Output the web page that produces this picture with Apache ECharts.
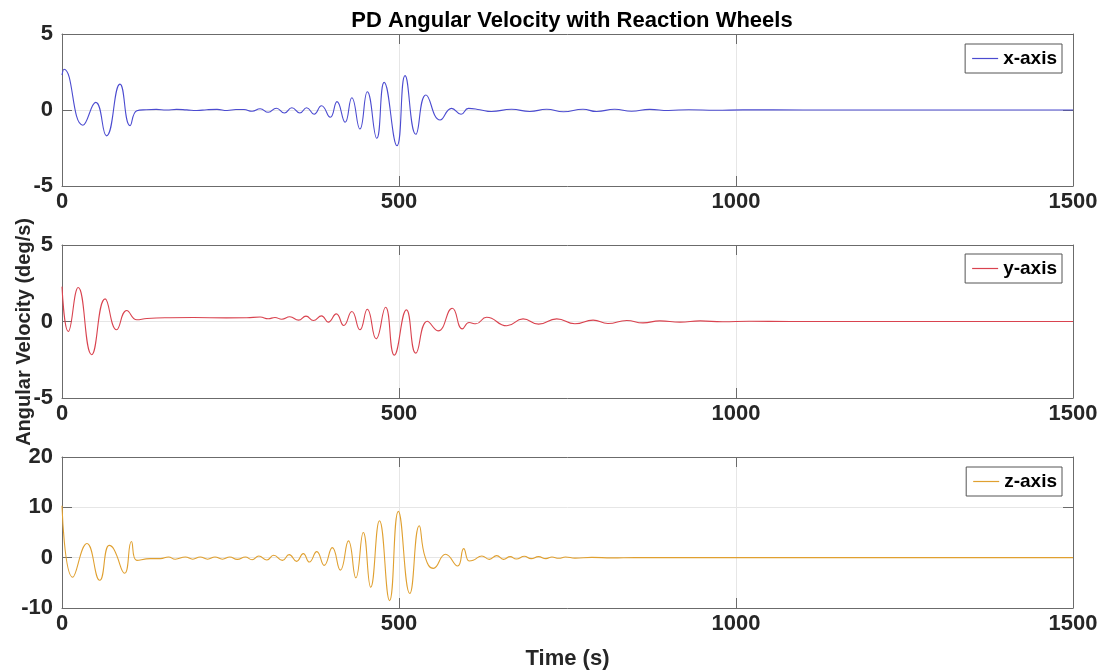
<!DOCTYPE html>
<html>
<head>
<meta charset="utf-8">
<title>PD Angular Velocity with Reaction Wheels</title>
<script src="https://cdn.jsdelivr.net/npm/echarts@6/dist/echarts.min.js"></script>
<style>
  html, body { margin: 0; padding: 0; background: #fff; }
  #chart { width: 1103px; height: 671px; }
</style>
</head>
<body>
<div id="chart"></div>
<script>
// Time stamps (s) and body rates (deg/s) for each axis
const timeX = [0, 3, 31, 50, 66, 86, 101, 111, 125, 140, 155, 170, 185, 200, 215, 230, 245, 258, 270, 282, 294, 306, 318, 330, 341, 353, 363, 374, 385, 398, 408, 420, 430, 442, 453, 467, 478, 497, 509, 525, 540, 561, 578, 592, 603, 620, 637, 667, 694, 719, 744, 773, 793, 820, 845, 872, 900, 930, 970, 1010, 1100, 1200, 1300, 1400, 1500];
const rateX = [2.3, 2.68, -1.0, 0.5, -1.7, 1.7, -1.03, -0.05, 0.02, 0.04, 0.0, 0.04, 0.01, -0.03, 0.02, 0.04, -0.03, 0.03, 0.03, -0.08, 0.08, -0.15, 0.12, -0.2, 0.15, -0.2, 0.15, -0.28, 0.28, -0.48, 0.55, -0.81, 0.81, -1.25, 1.2, -1.86, 1.82, -2.35, 2.26, -1.6, 0.99, -0.66, 0.11, -0.28, 0.11, 0.02, -0.1, 0.05, -0.1, 0.05, -0.12, 0.05, -0.1, 0.05, -0.08, 0.04, -0.03, 0.02, -0.02, 0.01, 0, 0, 0, 0, 0];

const timeY = [0, 9.4, 24, 44, 64, 81, 96, 111, 126, 160, 195, 244, 274, 294, 306, 316, 326, 338, 351, 362, 373, 385, 395, 407, 418, 430, 442, 453, 466, 480, 493, 511, 525, 542, 558, 579, 594, 604, 614, 630, 660, 684, 707, 734, 761, 788, 810, 838, 862, 887, 917, 947, 980, 1020, 1080, 1200, 1300, 1400, 1500];
const rateY = [2.28, -0.65, 2.22, -2.17, 1.48, -0.54, 0.72, 0.11, 0.2, 0.25, 0.26, 0.24, 0.25, 0.29, 0.18, 0.26, 0.15, 0.31, 0.09, 0.35, 0.07, 0.37, -0.04, 0.5, -0.26, 0.65, -0.54, 0.8, -1.13, 0.93, -2.2, 0.76, -2.07, 0.02, -0.61, 0.87, -0.48, -0.07, -0.15, 0.28, -0.28, 0.17, -0.17, 0.17, -0.15, 0.09, -0.13, 0.07, -0.09, 0.04, -0.04, 0.04, -0.02, 0.02, 0, 0, 0, 0, 0];

const timeZ = [0, 16, 37, 56, 70, 77, 93, 103, 111, 131, 146, 158, 168, 183, 194, 205, 216, 227, 238, 249, 260, 272, 282, 292, 304, 314, 327, 337, 348, 358, 367, 378, 389, 401, 413, 425, 436, 447, 458, 471, 486, 499, 516, 530, 539, 551, 569, 587, 596, 604, 610, 623, 634, 645, 655, 665, 674, 686, 696, 707, 718, 727, 737, 747, 761, 786, 816, 850, 900, 1000, 1100, 1200, 1300, 1400, 1500];
const rateZ = [10.3, -3.9, 2.8, -4.5, 2.45, 1.67, -3.1, 3.2, -0.53, -0.2, -0.2, 0.13, -0.3, 0.13, -0.3, 0.13, -0.3, 0.13, -0.3, 0.13, -0.33, 0.13, -0.4, 0.33, -0.47, 0.47, -0.53, 0.6, -0.73, 0.8, -0.87, 1.2, -1.53, 2.0, -2.47, 3.33, -4.0, 5.0, -5.87, 7.33, -8.53, 9.2, -7.13, 6.33, 0, -2.13, 0.67, -1.67, 1.8, -0.67, -0.53, 0.33, -0.33, 0.4, -0.33, 0.2, -0.27, 0.27, -0.2, 0.2, -0.2, 0.13, -0.13, 0.13, -0.1, 0.05, -0.05, 0.02, 0, 0, 0, 0, 0, 0, 0];

// Axis ranges and tick spacing
const timeTicks = { min: 0, max: 1500, interval: 500 };
const rateTicks = [
  { min: -5, max: 5, interval: 5 },
  { min: -5, max: 5, interval: 5 },
  { min: -10, max: 20, interval: 10 }
];
const seriesNames = ['x-axis', 'y-axis', 'z-axis'];
const seriesColors = ['#4b4bd0', '#d9434f', '#e0a030'];
const seriesTimes = [timeX, timeY, timeZ];
const seriesRates = [rateX, rateY, rateZ];

const FONT = 'Liberation Sans, Arial, sans-serif';
const BOX = '#6b6b6b';
const GRIDLINE = '#e6e6e6';
const LABEL = '#262626';
const plainNumber = v => String(v);

// Plot boxes, one per axis
const panels = [
  { top: 34, height: 152, legendTop: 44 },
  { top: 245, height: 153, legendTop: 254 },
  { top: 457, height: 151, legendTop: 467 }
];

const grids = [], xAxes = [], yAxes = [], series = [], legends = [];

panels.forEach((p, i) => {
  grids.push({ left: 62, right: 30, top: p.top, height: p.height, show: false, containLabel: false });

  // bottom axis with labels
  xAxes.push({
    type: 'value', gridIndex: i, position: 'bottom',
    min: timeTicks.min, max: timeTicks.max, interval: timeTicks.interval,
    axisLine: { show: true, onZero: false, lineStyle: { color: BOX, width: 1 } },
    axisTick: { show: true, inside: true, length: 10, lineStyle: { color: BOX } },
    axisLabel: { show: true, margin: 5, color: LABEL, fontFamily: FONT, fontWeight: 'bold', fontSize: 22, formatter: plainNumber },
    splitLine: { show: true, lineStyle: { color: GRIDLINE, width: 1 } },
    name: i === 2 ? 'Time (s)' : '',
    nameLocation: 'middle', nameGap: 40,
    nameTextStyle: { color: LABEL, fontFamily: FONT, fontWeight: 'bold', fontSize: 22 }
  });
  // top edge of the box with its own inward ticks
  xAxes.push({
    type: 'value', gridIndex: i, position: 'top',
    min: timeTicks.min, max: timeTicks.max, interval: timeTicks.interval,
    axisLine: { show: true, onZero: false, lineStyle: { color: BOX, width: 1 } },
    axisTick: { show: true, inside: true, length: 10, lineStyle: { color: BOX } },
    axisLabel: { show: false },
    splitLine: { show: false }
  });

  const r = rateTicks[i];
  yAxes.push({
    type: 'value', gridIndex: i, position: 'left',
    min: r.min, max: r.max, interval: r.interval,
    axisLine: { show: true, onZero: false, lineStyle: { color: BOX, width: 1 } },
    axisTick: { show: true, inside: true, length: 10, lineStyle: { color: BOX } },
    axisLabel: { show: true, margin: 9, color: LABEL, fontFamily: FONT, fontWeight: 'bold', fontSize: 22, formatter: plainNumber },
    splitLine: { show: true, lineStyle: { color: GRIDLINE, width: 1 } }
  });
  yAxes.push({
    type: 'value', gridIndex: i, position: 'right',
    min: r.min, max: r.max, interval: r.interval,
    axisLine: { show: true, onZero: false, lineStyle: { color: BOX, width: 1 } },
    axisTick: { show: true, inside: true, length: 10, lineStyle: { color: BOX } },
    axisLabel: { show: false },
    splitLine: { show: false }
  });

  const t = seriesTimes[i], v = seriesRates[i];
  series.push({
    name: seriesNames[i], type: 'line',
    xAxisIndex: 2 * i, yAxisIndex: 2 * i,
    data: t.map((tt, k) => [tt, v[k]]),
    smooth: 0.5, symbol: 'none', showSymbol: false,
    lineStyle: { color: seriesColors[i], width: 1.1 },
    itemStyle: { color: seriesColors[i] },
    animation: false, z: 3
  });

  legends.push({
    data: [{ name: seriesNames[i], icon: 'rect' }],
    right: 41, top: p.legendTop,
    backgroundColor: '#fff', borderColor: '#555', borderWidth: 1,
    padding: [5, 5, 5, 7], itemWidth: 26, itemHeight: 1.2, itemGap: 5,
    itemStyle: { color: seriesColors[i], borderWidth: 0 },
    textStyle: { color: '#000', fontFamily: FONT, fontWeight: 'bold', fontSize: 19 },
    selectedMode: false
  });
});

const chart = echarts.init(document.getElementById('chart'), null, { renderer: 'canvas' });
chart.setOption({
  backgroundColor: '#fff',
  animation: false,
  title: {
    text: 'PD Angular Velocity with Reaction Wheels',
    left: 567, textAlign: 'center', top: 5,
    textStyle: { color: '#000', fontFamily: FONT, fontWeight: 'bold', fontSize: 22 }
  },
  graphic: [{
    type: 'text',
    left: 14, top: 218,
    rotation: Math.PI / 2,
    style: {
      text: 'Angular Velocity (deg/s)',
      fill: LABEL, font: 'bold 20px ' + FONT,
      textAlign: 'center', textVerticalAlign: 'middle'
    }
  }],
  legend: legends,
  grid: grids,
  xAxis: xAxes,
  yAxis: yAxes,
  series: series
});
</script>
</body>
</html>
